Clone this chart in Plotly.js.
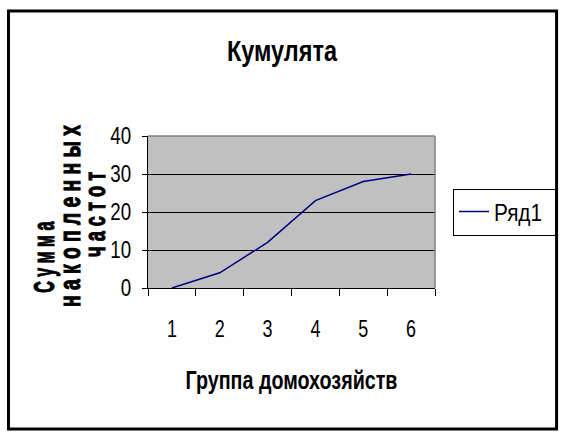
<!DOCTYPE html>
<html>
<head>
<meta charset="utf-8">
<script src="https://cdn.plot.ly/plotly-3.0.1.min.js"></script>
<style>html,body{margin:0;padding:0;background:#fff;}#chart{width:567px;height:440px;}</style>
</head>
<body>
<div id="chart"></div>
<script>
var categories = ['1', '2', '3', '4', '5', '6'];
var cumulative = [0, 4, 12, 23, 28, 30];
var seriesName = 'Ряд1';
var yTicks = [0, 10, 20, 30, 40];
var chartTitle = 'Кумулята';
var xTitle = 'Группа домохозяйств';
var yTitleLines = ['С у м м а', 'н а к о п л е н н ы х', 'ч а с т о т'];

var FONT = '"Liberation Sans", Arial, sans-serif';

var trace = {
  x: categories,
  y: cumulative,
  type: 'scatter',
  mode: 'lines',
  name: seriesName,
  line: {color: '#000080', width: 1.5},
  showlegend: true
};

// pixel helpers relative to the plot area (148..436 x, 136..288 y)
var L = 148, R = 436, T = 136, B = 288;
function px(x) { return (x - L) / (R - L); }
function py(y) { return (B - y) / (B - T); }

var layout = {
  width: 567,
  height: 440,
  margin: {l: L, r: 567 - R, t: T, b: 440 - B, pad: 0},
  paper_bgcolor: '#ffffff',
  plot_bgcolor: '#c0c0c0',
  font: {family: FONT, color: '#000000', size: 23},
  title: {
    text: chartTitle,
    font: {family: FONT, size: 29, weight: 'bold', color: '#000'},
    x: 282 / 567, xanchor: 'center',
    y: 1 - 51 / 440, yanchor: 'middle'
  },
  xaxis: {
    type: 'category',
    range: [-0.5, 5.5],
    tickson: 'boundaries',
    ticks: 'outside',
    ticklen: 7,
    tickcolor: '#000',
    tickwidth: 1,
    showline: true,
    linecolor: '#000',
    linewidth: 1,
    showgrid: false,
    zeroline: false,
    ticklabelstandoff: 20,
    tickfont: {family: FONT, size: 23, color: '#000'},
    title: {
      text: xTitle,
      font: {family: FONT, size: 25, weight: 'bold', color: '#000'},
      standoff: 30
    },
    fixedrange: true
  },
  yaxis: {
    range: [0, 40],
    tickvals: yTicks,
    ticktext: yTicks.map(String),
    ticks: 'outside',
    ticklen: 5,
    tickcolor: '#000',
    showline: true,
    linecolor: '#000',
    linewidth: 1,
    showgrid: true,
    gridcolor: '#000',
    gridwidth: 1,
    zeroline: false,
    ticklabelstandoff: 6,
    tickfont: {family: FONT, size: 24, color: '#000'},
    fixedrange: true
  },
  legend: {
    x: px(453), xanchor: 'left',
    y: py(212), yanchor: 'middle',
    bordercolor: '#000',
    borderwidth: 1,
    bgcolor: '#fff',
    font: {family: FONT, size: 24, color: '#000'},
    itemwidth: 30
  },
  shapes: [
    {type: 'line', xref: 'paper', yref: 'paper', x0: 0, x1: 1, y0: 1, y1: 1,
     line: {color: '#808080', width: 1.5}, layer: 'above'},
    {type: 'line', xref: 'paper', yref: 'paper', x0: 1, x1: 1, y0: 0, y1: 1,
     line: {color: '#808080', width: 1.5}, layer: 'above'},
    {type: 'rect', xref: 'paper', yref: 'paper',
     x0: px(8), x1: px(558), y0: py(429), y1: py(11),
     line: {color: '#000', width: 3}, fillcolor: 'rgba(0,0,0,0)', layer: 'below'}
  ],
  annotations: [
    {text: yTitleLines[0], xref: 'paper', yref: 'paper', x: px(44), y: py(257),
     textangle: -90, showarrow: false, xanchor: 'center', yanchor: 'middle',
     font: {family: FONT, size: 29, weight: 'bold', color: '#000'}},
    {text: yTitleLines[1], xref: 'paper', yref: 'paper', x: px(70), y: py(216),
     textangle: -90, showarrow: false, xanchor: 'center', yanchor: 'middle',
     font: {family: FONT, size: 29, weight: 'bold', color: '#000'}},
    {text: yTitleLines[2], xref: 'paper', yref: 'paper', x: px(95), y: py(214),
     textangle: -90, showarrow: false, xanchor: 'center', yanchor: 'middle',
     font: {family: FONT, size: 29, weight: 'bold', color: '#000'}}
  ]
};

// Narrow the glyphs (the reference uses a condensed, vertically stretched face)
function squeeze(el, target) {
  if (!el) return;
  var len = el.getComputedTextLength();
  if (!len) return;
  el.setAttribute('textLength', target);
  el.setAttribute('lengthAdjust', 'spacingAndGlyphs');
}
function squeezeFactor(el, f) {
  if (!el) return;
  var len = el.getComputedTextLength();
  if (len) squeeze(el, len * f);
}

Plotly.newPlot('chart', [trace], layout, {displayModeBar: false, staticPlot: true}).then(function (gd) {
  squeeze(gd.querySelector('.gtitle'), 110);
  squeeze(gd.querySelector('.g-xtitle text'), 212);
  var ann = gd.querySelectorAll('.annotation-text');
  var annLen = [71, 182, 85];
  for (var i = 0; i < ann.length; i++) {
    squeeze(ann[i], annLen[i]);
    ann[i].style.stroke = '#000';
    ann[i].style.strokeWidth = '1.1px';
  }
  squeeze(gd.querySelector('.legendtext'), 48);
  gd.querySelectorAll('.xtick text, .ytick text').forEach(function (t) { squeezeFactor(t, 0.78); });
});
</script>
</body>
</html>
